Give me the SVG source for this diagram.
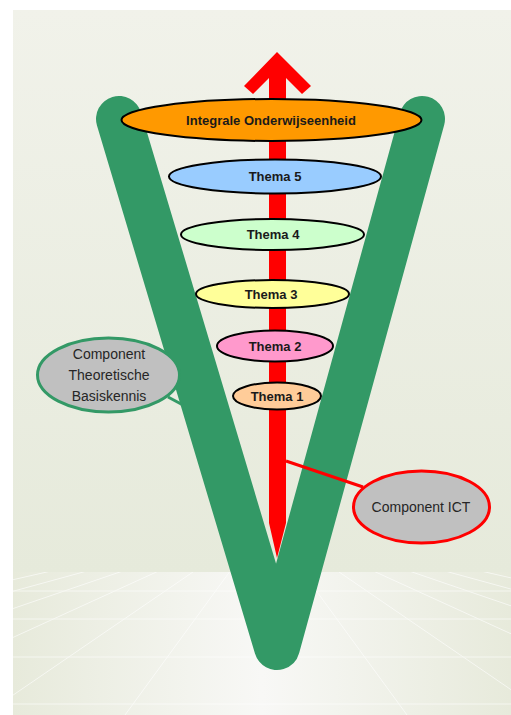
<svg xmlns="http://www.w3.org/2000/svg" width="511" height="715" viewBox="0 0 511 715">
<defs>
<linearGradient id="bg" x1="0" y1="0" x2="0" y2="1">
<stop offset="0" stop-color="#f1f2ea"/>
<stop offset="1" stop-color="#e6eadb"/>
</linearGradient>
<linearGradient id="floor" x1="0" y1="0" x2="1" y2="0">
<stop offset="0" stop-color="#e7eadb"/>
<stop offset="0.5" stop-color="#f8f8f6"/>
<stop offset="1" stop-color="#e7eadb"/>
</linearGradient>
<clipPath id="fc"><rect x="13" y="572" width="498" height="143"/></clipPath>
<style>
.th{stroke:#000;stroke-width:2}
.tb{font-family:"Liberation Sans",Arial,sans-serif;font-weight:bold;font-size:13px;fill:#1a1a1a;text-anchor:middle}
.tc{font-family:"Liberation Sans",Arial,sans-serif;font-size:14px;fill:#262626;text-anchor:middle}
.gl{stroke:#ffffff;stroke-width:1;opacity:0.6;fill:none}
</style>
</defs>
<g id="background">
<rect x="13" y="10" width="498" height="562" fill="url(#bg)"/>
<rect x="13" y="572" width="498" height="143" fill="url(#floor)"/>
<g clip-path="url(#fc)" class="gl">
<line x1="13" y1="591" x2="511" y2="591"/>
<line x1="13" y1="619" x2="511" y2="619"/>
<line x1="13" y1="657" x2="511" y2="657"/>
<line x1="13" y1="704" x2="511" y2="704"/>
<line x1="266" y1="522" x2="125" y2="715"/>
<line x1="266" y1="522" x2="-16" y2="715"/>
<line x1="266" y1="522" x2="-157" y2="715"/>
<line x1="266" y1="522" x2="-298" y2="715"/>
<line x1="266" y1="522" x2="-439" y2="715"/>
<line x1="266" y1="522" x2="-580" y2="715"/>
<line x1="266" y1="522" x2="407" y2="715"/>
<line x1="266" y1="522" x2="548" y2="715"/>
<line x1="266" y1="522" x2="689" y2="715"/>
<line x1="266" y1="522" x2="830" y2="715"/>
<line x1="266" y1="522" x2="971" y2="715"/>
<line x1="266" y1="522" x2="1112" y2="715"/>
</g>
</g>
<g id="v-shape">
<polyline points="119,119 277,647 422,119" fill="none" stroke="#339966" stroke-width="46" stroke-linecap="round" stroke-linejoin="round"/>
</g>
<g id="arrow">
<polygon points="277,52 311,86 302,94 286,78 286,523 277,558 269,523 269,78 253,94 244,86" fill="#ff0000"/>
</g>
<g id="connectors">
<line x1="286" y1="461" x2="363" y2="487" stroke="#ff0000" stroke-width="3"/>
<line x1="168" y1="397" x2="183" y2="405" stroke="#339966" stroke-width="3"/>
</g>
<g id="integrale">
<ellipse cx="271.5" cy="120" rx="150" ry="21" fill="#ff9900" class="th"/>
<text x="271" y="124.5" class="tb">Integrale Onderwijseenheid</text>
</g>
<g id="thema5">
<ellipse cx="275" cy="176.5" rx="106" ry="17" fill="#99ccff" class="th"/>
<text x="275" y="181" class="tb">Thema 5</text>
</g>
<g id="thema4">
<ellipse cx="272.5" cy="234.5" rx="91.5" ry="15.5" fill="#ccffcc" class="th"/>
<text x="273" y="239" class="tb">Thema 4</text>
</g>
<g id="thema3">
<ellipse cx="272.5" cy="294" rx="76.5" ry="14" fill="#ffff99" class="th"/>
<text x="271" y="298.5" class="tb">Thema 3</text>
</g>
<g id="thema2">
<ellipse cx="275" cy="346" rx="58" ry="15.5" fill="#ff99cc" class="th"/>
<text x="275" y="350.5" class="tb">Thema 2</text>
</g>
<g id="thema1">
<ellipse cx="277" cy="396" rx="44" ry="13.5" fill="#ffcc99" class="th"/>
<text x="277" y="400.5" class="tb">Thema 1</text>
</g>
<g id="component-theoretische">
<ellipse cx="108.5" cy="375" rx="71" ry="37" fill="#c0c0c0" stroke="#339966" stroke-width="3"/>
<text x="109" y="359" class="tc">Component</text>
<text x="109" y="380" class="tc">Theoretische</text>
<text x="109" y="401" class="tc">Basiskennis</text>
</g>
<g id="component-ict">
<ellipse cx="421.5" cy="507" rx="68" ry="36" fill="#c0c0c0" stroke="#ff0000" stroke-width="3"/>
<text x="421" y="512" class="tc">Component ICT</text>
</g>
</svg>
